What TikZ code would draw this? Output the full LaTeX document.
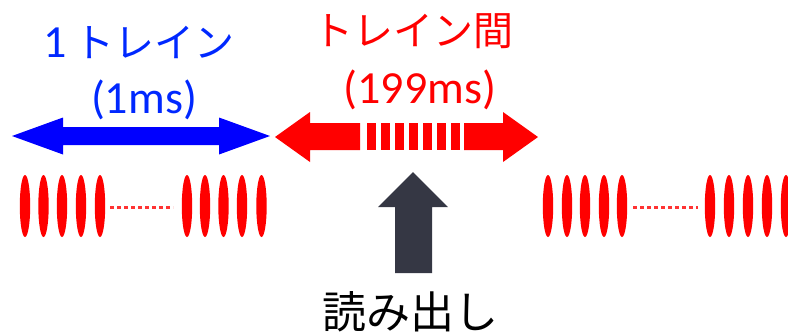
\documentclass[tikz,border=0pt]{standalone}
\usepackage{fontspec}
\setmainfont{Carlito}
\newfontfamily\jp{Noto Sans CJK JP}
\definecolor{txtblue}{RGB}{0,40,255}
\definecolor{darkarrow}{RGB}{53,55,68}
\begin{document}
\begin{tikzpicture}[x=1pt,y=-1pt,
  lbl/.style={inner sep=0pt, anchor=center},
  big/.style={font=\fontsize{46}{52}\selectfont},
  pulse/.style={fill=red},
  dots/.style={draw=red!80, line width=3pt, dash pattern=on 4pt off 3pt}]
\useasboundingbox (0,0) rectangle (788,333);
\clip (0,0) rectangle (788,333);
% blue double arrow
\fill[blue] (12,136) -- (63,117.5) -- (63,127) -- (219,127) -- (219,117.5) -- (270,136)
  -- (219,154.5) -- (219,145) -- (63,145) -- (63,154.5) -- cycle;
% red double arrow with stripes
\fill[red] (275,137) -- (310,112) -- (310,123) -- (360,123) -- (360,150) -- (310,150) -- (310,162) -- cycle;
\foreach \i in {0,...,6} \fill[red] ({367+14*\i},123) rectangle ({375.5+14*\i},150);
\fill[red] (464,123) -- (503,123) -- (503,112) -- (538,137) -- (503,162) -- (503,150) -- (464,150) -- cycle;
% dark up arrow
\fill[darkarrow] (413,172) -- (448,207) -- (432,207) -- (432,273) -- (395,273) -- (395,207) -- (378,207) -- cycle;
% pulses
\foreach \x in {25,43.5,62,81,100,187,205,223.5,242,261.5,548,567,585,604,622,710,729,748,767,786}
  \fill[pulse] (\x,206) ellipse [x radius=5.2, y radius=31];
\draw[dots] (110,207) -- (173,207);
\draw[dots] (633,207) -- (698,207);
% labels
\node[lbl, big, text=txtblue] (t1) at (139,42) {1\hspace{8pt}{\jp\fontsize{40}{48}\selectfont トレイン}};
\node[lbl, big, text=txtblue] (t2) at (144,100) {(1ms)};
\node[lbl, text=red, font=\jp\fontsize{40}{48}\selectfont] (t3) at (413,31) {トレイン間};
\node[lbl, big, text=red] (t4) at (420,90) {(199ms)};
\node[lbl, text=black, font=\jp\fontsize{44}{50}\selectfont] (t5) at (410,312) {読み出し};
\end{tikzpicture}
\end{document}
